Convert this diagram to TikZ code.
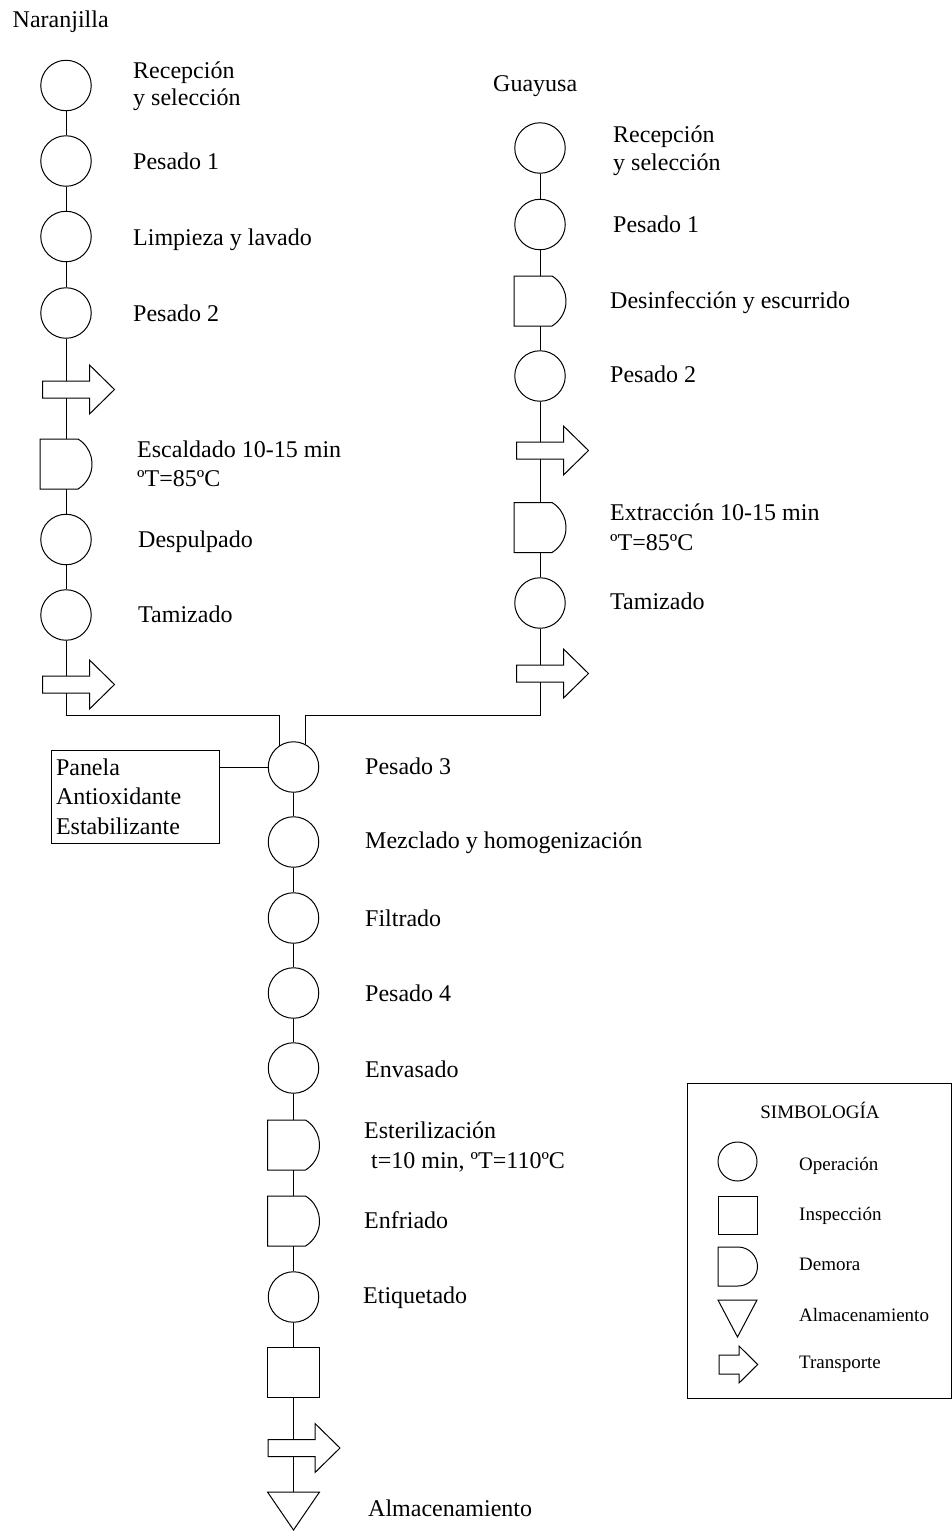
\documentclass[tikz,border=0pt]{standalone}
\usepackage{fontspec}
\setmainfont{Liberation Serif}
\usetikzlibrary{calc}

\tikzset{
  outline/.style={draw=black, line width=1pt, fill=white, line join=miter},
  op/.style={circle, draw=black, line width=1pt, fill=white, minimum size=50.5pt, inner sep=0pt},
  insp/.style={rectangle, draw=black, line width=1pt, fill=white, minimum width=52pt, minimum height=50pt, inner sep=0pt},
  slot/.style={rectangle, inner sep=0pt, outer sep=0pt},
  link/.style={draw=black, line width=1pt},
  lbl/.style={anchor=base west, inner sep=0pt, align=left, font=\fontsize{24}{28}\selectfont},
  key/.style={anchor=base west, inner sep=0pt, font=\fontsize{19}{22}\selectfont},
}

% transport symbol: block arrow pointing right, body centred on the flow line
\newcommand\transnode[2]{%
  \node[slot, minimum width=47pt, minimum height=17pt] (#1) at (#2) {};
  \draw[outline] (#1.north west) -- (#1.north east) -- ++(0,-16)
    -- ($(#1.east)+(25,0)$) -- ($(#1.south east)+(0,16)$)
    -- (#1.south east) -- (#1.south west) -- cycle;}

% delay symbol: flat left side, rounded right side
\newcommand\delaynode[2]{%
  \node[slot, minimum width=52pt, minimum height=50pt] (#1) at (#2) {};
  \draw[outline] (#1.north west) -- ($(#1.north east)+(-14,0)$)
    arc[start angle=58.6, end angle=-58.6, radius=29.3pt]
    -- (#1.south west) -- cycle;}

\begin{document}
\begin{tikzpicture}[x=1pt, y=-1pt]
\useasboundingbox (0,0) rectangle (952,1540);

% ---------------- Naranjilla line ----------------
% (two-line labels are placed by the baseline of their last line)
\node[lbl] (tn) at (12.5,27) {Naranjilla};
\node[op] (n1) at (66,85.5) {};
\node[op] (n2) at (66,161) {};
\node[op] (n3) at (66,236.5) {};
\node[op] (n4) at (66,313) {};
\transnode{nt1}{66,389.5}
\delaynode{nd1}{66,464}
\node[op] (n5) at (66,539.5) {};
\node[op] (n6) at (66,615) {};
\transnode{nt2}{66,684.5}

\node[lbl, font=\fontsize{24}{27.5}\selectfont] (ln1) at (133,105.5) {Recepción\\y selección};
\node[lbl] (ln2) at (133,169) {Pesado 1};
\node[lbl] (ln3) at (133,245) {Limpieza y lavado};
\node[lbl] (ln4) at (133,321) {Pesado 2};
\node[lbl, font=\fontsize{24}{29}\selectfont] (ln5) at (137,486) {Escaldado 10-15 min\\ºT=85ºC};
\node[lbl] (ln6) at (138,547) {Despulpado};
\node[lbl] (ln7) at (138,622) {Tamizado};

\draw[link] (n1.south) -- (n2.north);
\draw[link] (n2.south) -- (n3.north);
\draw[link] (n3.south) -- (n4.north);
\draw[link] (n4.south) -- (nt1.north);
\draw[link] (nt1.south) -- (nd1.north);
\draw[link] (nd1.south) -- (n5.north);
\draw[link] (n5.south) -- (n6.north);
\draw[link] (n6.south) -- (nt2.north);

% ---------------- Guayusa line ----------------
\node[lbl] (tg) at (493,91) {Guayusa};
\node[op] (g1) at (540,148) {};
\node[op] (g2) at (540,224.5) {};
\delaynode{gd1}{540,301}
\node[op] (g3) at (540,376) {};
\transnode{gt1}{540,450.5}
\delaynode{gd2}{540,527.5}
\node[op] (g4) at (540,603) {};
\transnode{gt2}{540,673.5}

\node[lbl] (lg1) at (613,170) {Recepción\\y selección};
\node[lbl] (lg2) at (613,232) {Pesado 1};
\node[lbl] (lg3) at (610,308) {Desinfección y escurrido};
\node[lbl] (lg4) at (610,382) {Pesado 2};
\node[lbl, font=\fontsize{24}{30}\selectfont] (lg5) at (610,550) {Extracción 10-15 min\\ºT=85ºC};
\node[lbl] (lg6) at (610,609) {Tamizado};

\draw[link] (g1.south) -- (g2.north);
\draw[link] (g2.south) -- (gd1.north);
\draw[link] (gd1.south) -- (g3.north);
\draw[link] (g3.south) -- (gt1.north);
\draw[link] (gt1.south) -- (gd2.north);
\draw[link] (gd2.south) -- (g4.north);
\draw[link] (g4.south) -- (gt2.north);

% ---------------- common line ----------------
\node[op] (p3) at (293.5,767) {};
\node[op] (p4) at (293.5,842) {};
\node[op] (p5) at (293.5,918) {};
\node[op] (p6) at (293.5,993) {};
\node[op] (p7) at (293.5,1068) {};
\delaynode{cd1}{293.5,1145}
\delaynode{cd2}{293.5,1221}
\node[op] (p8) at (293.5,1297) {};
\node[insp] (sq) at (293.5,1372) {};
\transnode{ct}{291.5,1448}
\node[slot, minimum width=52pt, minimum height=38pt] (tri) at (293.5,1511) {};
\draw[outline] (tri.north west) -- (tri.north east) -- (tri.south) -- cycle;

\node[lbl] (lc1) at (365,774) {Pesado 3};
\node[lbl] (lc2) at (365,848) {Mezclado y homogenización};
\node[lbl] (lc3) at (365,926) {Filtrado};
\node[lbl] (lc4) at (365,1001) {Pesado 4};
\node[lbl] (lc5) at (365,1077) {Envasado};
\node[lbl, font=\fontsize{24}{30}\selectfont] (lc6) at (364,1168) {Esterilización\\\hspace*{7pt}t=10 min, ºT=110ºC};
\node[lbl] (lc7) at (364,1228) {Enfriado};
\node[lbl] (lc8) at (363,1303) {Etiquetado};
\node[lbl] (lc9) at (368,1516) {Almacenamiento};

% merging of both lines into the common line
\coordinate (jl) at (279.5,715.5);
\coordinate (jr) at (305.7,715.5);
\draw[link] (nt2.south) |- (jl) -- (jl |- p3.124);
\draw[link] (gt2.south) |- (jr) -- (jr |- p3.61);

% added ingredients
\node[draw=black, line width=1pt, minimum width=168pt, minimum height=93pt,
      text width=158pt, inner xsep=5pt, align=left,
      font=\fontsize{24}{29.5}\selectfont] (add) at (135,796.5)
      {Panela\\Antioxidante\\Estabilizante};
\draw[link] (p3.west) -- (p3.west -| add.east);

\draw[link] (p3.south) -- (p4.north);
\draw[link] (p4.south) -- (p5.north);
\draw[link] (p5.south) -- (p6.north);
\draw[link] (p6.south) -- (p7.north);
\draw[link] (p7.south) -- (cd1.north);
\draw[link] (cd1.south) -- (cd2.north);
\draw[link] (cd2.south) -- (p8.north);
\draw[link] (p8.south) -- (sq.north);
\draw[link] (sq.south) -- (sq.south |- ct.north);
\draw[link] (sq.south |- ct.south) -- (tri.north);

% ---------------- legend ----------------
\node[draw=black, line width=1pt, minimum width=264pt, minimum height=315pt,
      inner sep=0pt, anchor=north west] (legend) at (687,1083) {};
\node[anchor=base, inner sep=0pt, font=\fontsize{19}{22}\selectfont] (ltitle) at (820,1118) {SIMBOLOGÍA};

\node[circle, draw=black, line width=1pt, minimum size=39pt, inner sep=0pt] (kop) at (737.5,1161.5) {};
\node[rectangle, draw=black, line width=1pt, minimum width=39pt, minimum height=38pt, inner sep=0pt] (kin) at (737.5,1215) {};
\draw[outline] (718,1247) -- (738,1247) arc[start angle=90, end angle=-90, radius=19.5pt] -- (718,1286) -- cycle;
\draw[outline] (718,1300) -- (757,1300) -- (737.5,1337) -- cycle;
\draw[outline] (719,1355) -- (739,1355) -- (739,1346) -- (757.7,1364.5) -- (739,1383) -- (739,1374) -- (719,1374) -- cycle;

\node[key] (k1) at (799,1170.5) {Operación};
\node[key] (k2) at (799,1220.5) {Inspección};
\node[key] (k3) at (799,1270) {Demora};
\node[key] (k4) at (799,1321.5) {Almacenamiento};
\node[key] (k5) at (799,1368) {Transporte};
\end{tikzpicture}
\end{document}
